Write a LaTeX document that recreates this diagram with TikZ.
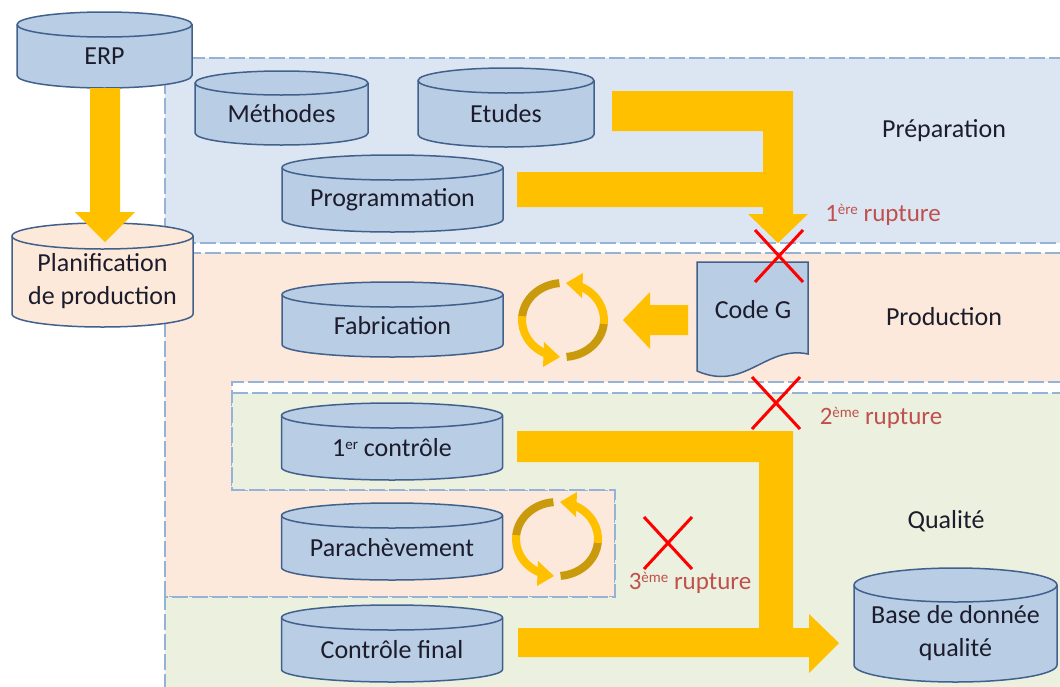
\documentclass[tikz,border=0pt]{standalone}
\usepackage{fontspec}
\setmainfont{Carlito}
\usepackage{xcolor}
\definecolor{cylfill}{HTML}{B9CDE5}
\definecolor{cylline}{HTML}{41618C}
\definecolor{planfill}{HTML}{FDE9D9}
\definecolor{prepfill}{HTML}{DCE6F2}
\definecolor{prodfill}{HTML}{FDE9DB}
\definecolor{qualfill}{HTML}{EBF1DE}
\definecolor{zoneline}{HTML}{95B3D7}
\definecolor{flux}{HTML}{FFC000}
\definecolor{fluxdark}{HTML}{C99B0C}
\definecolor{rupt}{HTML}{C0504D}
\definecolor{txtcol}{HTML}{1C1C2C}
\tikzset{
    txt/.style={text=txtcol, align=center, font=\fontsize{26}{33}\selectfont},
    rupture/.style={text=rupt, font=\fontsize{25}{30}\selectfont},
    zone/.style={draw=zoneline, line width=1.5pt, dash pattern=on 16pt off 4pt},
    cross/.style={draw=red, line width=3pt},
}
\newcommand{\expo}[1]{\raisebox{0.6ex}{\fontsize{15}{15}\selectfont #1}}
\newcommand{\cyl}[8][cylfill]{%
    \begin{scope}[shift={(#3,#4)}]
        \filldraw[line width=1.5pt, draw=cylline, fill=#1]
            (-#5,-#6+#7) -- (-#5,#6-#7)
            arc[start angle=180, end angle=0, x radius=#5, y radius=#7]
            -- (#5,-#6+#7)
            arc[start angle=0, end angle=-180, x radius=#5, y radius=#7] -- cycle;
        \draw[line width=1.5pt, draw=cylline] (-#5,-#6+#7)
            arc[start angle=180, end angle=0, x radius=#5, y radius=#7];
        \node[txt] (#2) at (0,#7/2) {#8};
    \end{scope}
}
\newcommand{\boucle}[2]{%
    \foreach \r in {0,180} {
        \begin{scope}[shift={(#1,#2)}, rotate=\r]
            \draw[fluxdark, line width=8pt] (265:41 and 37)
                arc[start angle=265, end angle=185, x radius=41, y radius=37];
            \draw[flux, line width=8pt] (186:41 and 37)
                arc[start angle=186, end angle=115, x radius=41, y radius=37];
            \fill[flux] (-19,22) -- (-20,47) -- (-3,37) -- cycle;
        \end{scope}
    }%
}

\begin{document}
\begin{tikzpicture}[x=1pt, y=-1pt]
    \useasboundingbox (0,0) rectangle (1060,686);
    \clip (0,0) rectangle (1060,686);

    % zones
    \filldraw[zone, fill=prepfill] (165,58) rectangle (1080,243);
    \filldraw[zone, fill=prodfill] (165,253) -- (1080,253) -- (1080,382) -- (232,382)
        -- (232,490) -- (615,490) -- (615,597) -- (165,597) -- cycle;
    \filldraw[zone, fill=qualfill] (232,393) -- (1080,393) -- (1080,700) -- (165,700)
        -- (165,597) -- (615,597) -- (615,490) -- (232,490) -- cycle;
    \node[txt] (prep) at (944,131) {Préparation};
    \node[txt] (prod) at (944,317) {Production};
    \node[txt] (qual) at (946,521) {Qualité};

    % bases
    \cyl{erp}{104.5}{50}{87.5}{38}{12.5}{ERP}
    \cyl{methodes}{281.5}{108}{86.5}{37}{12}{Méthodes}
    \cyl{etudes}{506}{107.5}{88}{39.5}{12.5}{Etudes}
    \cyl{prog}{392.5}{193.5}{110.5}{38.5}{12.5}{Programmation}
    \cyl[planfill]{planif}{102.5}{275}{90.5}{52}{13}{Planification\\de production}
    \cyl{fab}{392.5}{319.5}{110.5}{37.5}{12.5}{Fabrication}
    \cyl{ctrl}{392}{441.5}{110.5}{38.5}{12.5}{1\expo{er} contrôle}
    \cyl{parach}{392}{541.5}{110.5}{38.5}{12.5}{Parachèvement}
    \cyl{ctrlfin}{392}{643.5}{110.5}{38.5}{12.5}{Contrôle final}
    \cyl{bdq}{955.5}{625}{101.5}{57}{17}{Base de donnée\\qualité}

    % code G
    \filldraw[line width=1.5pt, draw=cylline, fill=cylfill] (697,262) -- (808,262)
        -- (808,354) .. controls (765,345) and (745,392) .. (697,371) -- cycle;
    \node[txt] (codeg) at (753,310) {Code G};

    % flux
    \fill[flux] (90,88) -- (120,88) -- (120,212) -- (135,212) -- (105,242)
        -- (75,212) -- (90,212) -- cycle;
    \fill[flux] (612,91) -- (793,91) -- (793,214) -- (808,214) -- (778,243)
        -- (748,214) -- (763,214) -- (763,207) -- (517,207) -- (517,172)
        -- (763,172) -- (763,131) -- (612,131) -- cycle;
    \fill[flux] (688,305) -- (650,305) -- (650,292) -- (623,320) -- (650,349)
        -- (650,335) -- (688,335) -- cycle;
    \fill[flux] (517,431) -- (793,431) -- (793,628) -- (809,628) -- (809,614)
        -- (839,643) -- (809,673) -- (809,657) -- (518,657) -- (518,628)
        -- (759,628) -- (759,462) -- (517,462) -- cycle;
    \boucle{563}{320}
    \boucle{557}{539}

    % ruptures
    \foreach \cx/\cy in {779/256, 776/403, 668/543}
        \draw[cross] (\cx-24,\cy-26) -- ++(48,52) (\cx+24,\cy-26) -- ++(-48,52);
    \node[rupture] (r1) at (883,215) {1\expo{ère} rupture};
    \node[rupture] (r2) at (881,418) {2\expo{ème} rupture};
    \node[rupture] (r3) at (690,583) {3\expo{ème} rupture};
\end{tikzpicture}
\end{document}
